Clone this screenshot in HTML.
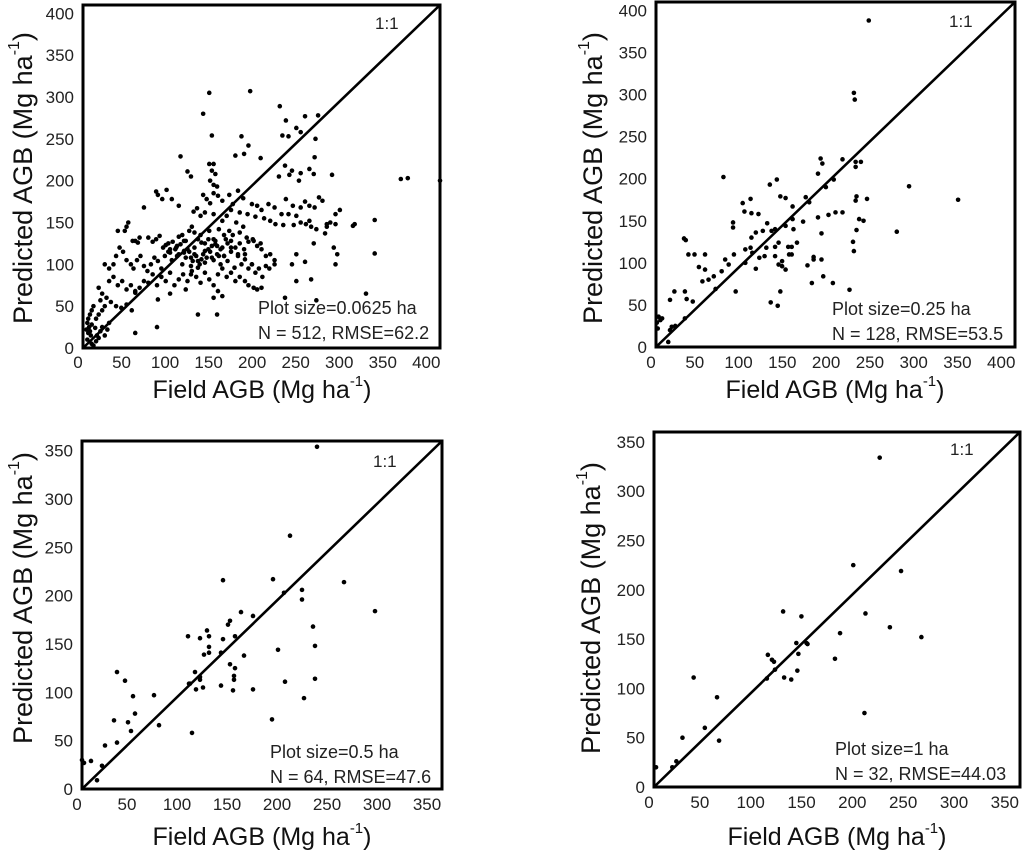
<!DOCTYPE html>
<html><head><meta charset="utf-8"><style>
html,body{margin:0;padding:0;background:#fff;}
svg{display:block;font-family:"Liberation Sans",Arial,sans-serif;}
</style></head><body>
<svg id="chart" width="1024" height="852" viewBox="0 0 1024 852" xmlns="http://www.w3.org/2000/svg"></svg>
<script>
// ---- data ----
const p1X=[145,192,138,226,233,245,250,255,270,229,236,267,148,182,185,190,175,112,204,266,120,124,145,150,148,152,146,150,154,225,232,240,237,250,248,260,265,286,365,373,410,
84,86,96,91,102,110,138,142,146,150,155,160,168,172,178,184,170,194,200,205,213,220,233,241,250,255,260,266,271,275,290,295,131,127,135,140,150,160,165,180,189,198,208,215,221,228,236,245,250,256,260,262,268,280,284,290,310,312,335,230,242,
70,48,40,52,50,57,60,63,65,75,80,84,88,95,98,103,107,110,114,118,122,125,128,132,135,140,145,150,154,158,162,166,170,175,180,185,190,195,200,205,210,215,220,35,38,42,46,50,55,58,62,66,70,74,78,82,86,90,94,98,102,106,110,114,118,122,126,130,134,138,142,146,150,154,158,162,166,170,174,178,182,186,190,194,198,202,206,210,186,190,196,200,205,214,220,25,30,30,35,40,45,50,55,60,65,70,75,80,85,90,95,100,105,110,115,120,125,130,135,140,145,150,155,160,165,170,175,180,18,22,27,32,38,44,50,56,60,86,100,118,155,160,150,132,154,85,60,232,268,325,245,262,245,255,240,290,292,288,335,280,265,278,20,12,10,8,6,5,7,8,9,5,10,12,15,18,20,22,25,28,30,15,18,22,25,10,14,6,4,16,
128,136,144,152,116,124,132,140,148,156,112,120,128,136,144,152,160,100,108,116,124,132,140,148,92,100,108,116,124,168,176,184,172,164,156,180,188,196,204,170,162,178,186,194];
const p1Y=[305,307,280,289,272,263,258,277,278,254,253,250,254,253,232,242,230,229,227,228,211,205,220,220,212,208,200,195,193,205,218,212,207,209,200,214,208,207,202,203,200,
187,183,189,178,178,170,183,178,173,185,182,176,183,172,188,179,165,172,170,165,172,168,178,170,168,175,170,168,180,176,160,165,167,163,158,162,160,152,158,162,160,157,155,152,148,160,160,158,150,148,152,145,142,148,150,148,146,148,153,147,147,
168,140,140,150,145,128,128,126,132,132,127,130,134,123,125,127,120,133,135,128,140,145,138,130,135,125,140,130,122,118,135,125,128,120,125,118,127,130,122,118,110,112,105,100,110,120,115,105,100,95,105,110,98,92,100,108,104,95,110,115,105,118,112,100,108,115,104,110,100,112,108,115,105,112,100,110,104,115,96,110,100,112,95,100,90,95,85,98,80,75,72,70,72,95,100,100,95,80,85,75,80,70,75,66,72,80,78,88,75,85,80,90,75,82,88,80,92,85,78,90,82,75,88,95,85,90,80,85,72,65,60,55,50,48,52,45,68,58,65,70,68,62,60,40,40,25,18,60,57,65,80,82,112,103,100,100,112,120,113,145,125,137,57,50,45,40,35,30,25,20,15,10,5,3,8,12,20,25,15,22,30,35,40,45,50,28,24,18,22,15,
120,126,118,124,114,108,104,116,122,110,124,118,112,106,130,128,120,118,122,128,98,96,102,108,120,114,110,116,88,140,150,145,135,130,142,138,132,128,125,120,110,112,106,100];
const p2X=[243,226,227,77,188,190,213,228,228,234,185,194,203,289,345,229,228,241,171,175,130,138,142,148,156,108,99,101,109,117,185,197,205,213,232,237,88,88,127,136,148,156,157,168,189,229,275,109,114,122,132,102,108,110,118,126,136,140,151,155,161,152,136,144,140,155,225,226,32,34,37,44,49,56,56,53,60,66,68,75,79,83,89,91,102,114,124,144,148,173,180,180,189,191,178,202,221,142,131,139,21,33,35,42,16,22,33,16,14,3,5,1,7,2,18];
const p2Y=[388,302,294,202,224,218,223,220,214,220,206,190,199,191,175,179,174,176,178,172,193,199,179,177,167,176,171,161,159,158,154,157,160,160,152,150,148,142,147,140,144,152,140,149,135,139,137,130,136,138,138,116,118,112,106,118,119,124,119,119,124,110,108,102,98,110,125,114,129,127,110,110,95,110,92,78,80,84,69,90,104,98,110,66,100,93,108,96,92,97,107,104,104,84,76,76,68,66,53,49,66,66,57,54,56,25,34,20,6,36,32,29,34,22,24];
const p3X=[235,208,141,191,262,220,220,202,293,159,171,148,146,153,125,127,106,118,141,231,233,196,127,127,122,139,162,148,153,113,152,152,118,118,107,108,139,121,114,151,171,203,233,222,35,43,51,72,53,46,32,77,49,110,190,35,23,20,9,2,0,15];
const p3Y=[354,262,216,217,214,206,196,203,184,183,179,174,170,158,164,158,158,156,155,168,148,144,147,141,139,141,138,129,125,121,117,113,116,113,109,109,107,105,103,102,103,111,114,94,121,112,96,97,78,69,71,66,60,58,72,48,45,24,29,27,30,9];
const p4X=[222,196,243,127,145,208,232,183,263,140,150,151,142,112,116,118,178,119,141,128,135,111,39,62,207,50,64,28,22,18,2];
const p4Y=[334,225,219,178,173,176,162,156,152,146,146,145,135,134,129,127,130,119,118,111,109,110,111,91,75,60,47,50,26,20,20];
const ticks400=[0,50,100,150,200,250,300,350,400];
const ticks350=[0,50,100,150,200,250,300,350];
const plotLabels=["Plot size=0.0625 ha","Plot size=0.25 ha","Plot size=0.5 ha","Plot size=1 ha"];
const statLabels=["N = 512,  RMSE=62.2","N = 128,  RMSE=53.5","N = 64,  RMSE=47.6","N = 32,  RMSE=44.03"];

const NS="http://www.w3.org/2000/svg";
const svg=document.getElementById('chart');
function mk(tag,attrs,parent){const e=document.createElementNS(NS,tag);for(const k in attrs)e.setAttribute(k,attrs[k]);(parent||svg).appendChild(e);return e;}

const panels=[
 {x0:83,x1:440,y0:348,y1:5,max:410,ticks:ticks400,xs:p1X,ys:p1Y,ytx:22,yty:178,xtx:262,xty:398,lx:258,ly:314,ox:375,oy:29,ty:368},
 {x0:656,x1:1015,y0:347,y1:2,max:410,ticks:ticks400,xs:p2X,ys:p2Y,ytx:592,yty:178,xtx:835,xty:398,lx:832,ly:315,ox:949,oy:27,ty:368},
 {x0:82,x1:442,y0:789,y1:441,max:360,ticks:ticks350,xs:p3X,ys:p3Y,ytx:22,yty:598,xtx:262,xty:845,lx:270,ly:758,ox:373,oy:467,ty:810},
 {x0:654,x1:1020,y0:787,y1:432,max:360,ticks:ticks350,xs:p4X,ys:p4Y,ytx:590,yty:608,xtx:837,xty:845,lx:835,ly:755,ox:950,oy:455,ty:808}
];

panels.forEach((P,i)=>{
 const g=mk('g',{});
 
 
 const sx=v=>P.x0+(P.x1-P.x0)*v/P.max;
 const sy=v=>P.y0+(P.y1-P.y0)*v/P.max;
 for(let k=0;k<P.xs.length;k++){
  const c=mk('circle',{cx:sx(P.xs[k]),cy:sy(P.ys[k]),r:2.3,fill:'#000'},g);
  
  
 }
 const l=mk('line',{x1:sx(0),y1:sy(0),x2:sx(P.max),y2:sy(P.max),stroke:'#000','stroke-width':2.6},g);
 
 
 const f=mk('rect',{x:P.x0,y:P.y1,width:P.x1-P.x0,height:P.y0-P.y1,fill:'none',stroke:'#000','stroke-width':3},g);
 
 
 P.ticks.forEach(t=>{
  const tx=mk('text',{x:sx(t)-5,y:P.ty,'text-anchor':'middle','font-size':17,fill:'#222'},g);
  tx.textContent=t;
  
  
  const ty=mk('text',{x:P.x0-9,y:sy(t)+6,'text-anchor':'end','font-size':17,fill:'#222'},g);
  ty.textContent=t;
  
  
 });
 const xt=mk('text',{x:P.xtx,y:P.xty,'text-anchor':'middle','font-size':25,fill:'#111'},g);
 xt.innerHTML='Field AGB (Mg ha<tspan font-size="15" dy="-12">-1</tspan><tspan dy="12">)</tspan>';
 
 
 const yt=mk('text',{x:0,y:0,'text-anchor':'middle','font-size':27,fill:'#111',transform:'translate('+(P.ytx+10)+','+P.yty+') rotate(-90)'},g);
 yt.innerHTML='Predicted AGB (Mg ha<tspan font-size="16" dy="-13">-1</tspan><tspan dy="13">)</tspan>';
 
 
 const o=mk('text',{x:P.ox,y:P.oy,'font-size':17,fill:'#222'},g);
 o.textContent='1:1';
 
 
 const a=mk('text',{x:P.lx,y:P.ly,'font-size':18,fill:'#222'},g);
 a.textContent=plotLabels[i];
 
 
 const b=mk('text',{x:P.lx,y:P.ly+25,'font-size':18,fill:'#222','xml:space':'preserve'},g);
 b.textContent=statLabels[i];
 
 
});
</script>
</body></html>
